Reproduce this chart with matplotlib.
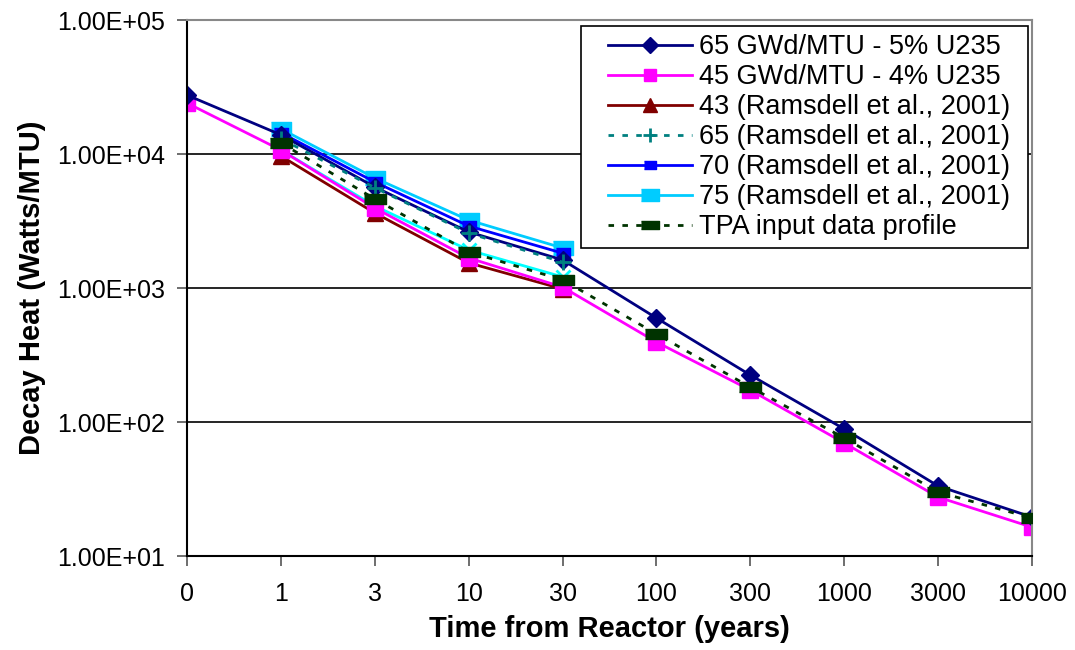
import matplotlib
matplotlib.use("Agg")
import matplotlib.pyplot as plt
from matplotlib.patches import Rectangle
from matplotlib.ticker import FixedLocator, FuncFormatter, NullLocator

plt.rcParams['font.family'] = ['Liberation Sans', 'DejaVu Sans']

categories = ["0", "1", "3", "10", "30", "100", "300", "1000", "3000", "10000"]

gwd65_5pct = [27500, 13900, 5670, 2620, 1620, 597, 224, 88.7, 33.3, 19.5]
gwd45_4pct = [24000, 10700, 3950, 1675, 1016, 395, 173, 69.7, 27.5, 16.4]
ramsdell43 = [None, 9660, 3630, 1540, 984, None, None, None, None, None]
ramsdell65 = [None, 13000, 5600, 2570, 1560, None, None, None, None, None]
ramsdell70 = [None, 14400, 6180, 2900, 1820, None, None, None, None, None]
ramsdell75 = [None, 15400, 6620, 3210, 1990, None, None, None, None, None]
unlabelled_x = [None, 10700, 4090, 1920, 1210, None, None, None, None, None]
tpa_profile = [None, 12100, 4620, 1860, 1150, 454, 182, 76, 30, 19.2]

fig = plt.figure(figsize=(10.75, 6.5), dpi=100)
ax = fig.add_axes([187/1075, 1 - 556/650, (1032 - 187)/1075, (556 - 20)/650])

x = list(range(len(categories)))

def pts(vals):
    xs = [xi for xi, v in zip(x, vals) if v is not None]
    ys = [v for v in vals if v is not None]
    return xs, ys

wide = [(-1, -0.45), (1, -0.45), (1, 0.45), (-1, 0.45)]
mid = [(-1, -0.65), (1, -0.65), (1, 0.65), (-1, 0.65)]

series = [
    (unlabelled_x, dict(color='#00FFFF', lw=2, marker='x', ms=10, mew=2, label='_nolegend_')),
    (tpa_profile, dict(color='#003300', lw=2, ls=(0, (2, 3)), marker=wide, ms=16, label='TPA input data profile', zorder=2.6)),
    (ramsdell43, dict(color='#800000', lw=2, marker='^', ms=12, label='43 (Ramsdell et al., 2001)')),
    (gwd45_4pct, dict(color='#FF00FF', lw=2, marker='s', ms=11, label='45 GWd/MTU - 4% U235')),
    (ramsdell75, dict(color='#00CCFF', lw=2, marker=mid, ms=15, label='75 (Ramsdell et al., 2001)')),
    (ramsdell70, dict(color='#0000FF', lw=2, marker=mid, ms=10, label='70 (Ramsdell et al., 2001)')),
    (gwd65_5pct, dict(color='#000080', lw=2, marker='D', ms=9, label='65 GWd/MTU - 5% U235')),
    (ramsdell65, dict(color='#008080', lw=2, ls=(0, (2, 3)), marker='+', ms=12, mew=2, label='65 (Ramsdell et al., 2001)')),
]
handles = {}
for vals, kw in series:
    xs, ys = pts(vals)
    h, = ax.plot(xs, ys, **kw)
    handles[kw['label']] = h

ax.set_yscale('log')
ax.set_ylim(10, 1e5)
ax.set_xlim(0, 9)
ax.yaxis.set_major_locator(FixedLocator([10, 100, 1000, 1e4, 1e5]))
ax.yaxis.set_minor_locator(NullLocator())
ax.yaxis.set_major_formatter(FuncFormatter(lambda v, p: "%.2E" % v))
ax.set_xticks(x)
ax.set_xticklabels(categories)
ax.tick_params(axis='both', labelsize=18, direction='out', length=7, width=1.2, color='#555555', pad=9)
ax.tick_params(axis='x', pad=12)
ax.grid(axis='y', which='major', color='black', lw=1.2)
ax.set_axisbelow(True)
for s in ['left', 'bottom']:
    ax.spines[s].set_color('black')
    ax.spines[s].set_linewidth(1.5)
for s in ['top', 'right']:
    ax.spines[s].set_color('#888888')
    ax.spines[s].set_linewidth(1.5)

ax.set_ylabel('Decay Heat (Watts/MTU)', fontsize=21, fontweight='bold', labelpad=8)
ax.set_xlabel('Time from Reactor (years)', fontsize=21, fontweight='bold', labelpad=6)

# legend frame drawn as a separate box
box = Rectangle((581/1075, 1 - 248/650), 447/1075, 222/650, transform=fig.transFigure,
                facecolor='white', edgecolor='black', lw=1.2, zorder=4.5, clip_on=False)
ax.add_patch(box)

order = ['65 GWd/MTU - 5% U235', '45 GWd/MTU - 4% U235', '43 (Ramsdell et al., 2001)',
         '65 (Ramsdell et al., 2001)', '70 (Ramsdell et al., 2001)', '75 (Ramsdell et al., 2001)',
         'TPA input data profile']
leg = ax.legend([handles[k] for k in order], order, loc='upper left',
                bbox_to_anchor=(608/1075, 1 - 34/650), bbox_transform=fig.transFigure,
                fontsize=19.5, frameon=False,
                borderaxespad=0, handlelength=3.1, labelspacing=0.15, borderpad=0,
                handletextpad=0.25, markerscale=0.85)
leg.set_zorder(5)

fig.savefig('out.png', dpi=100)
